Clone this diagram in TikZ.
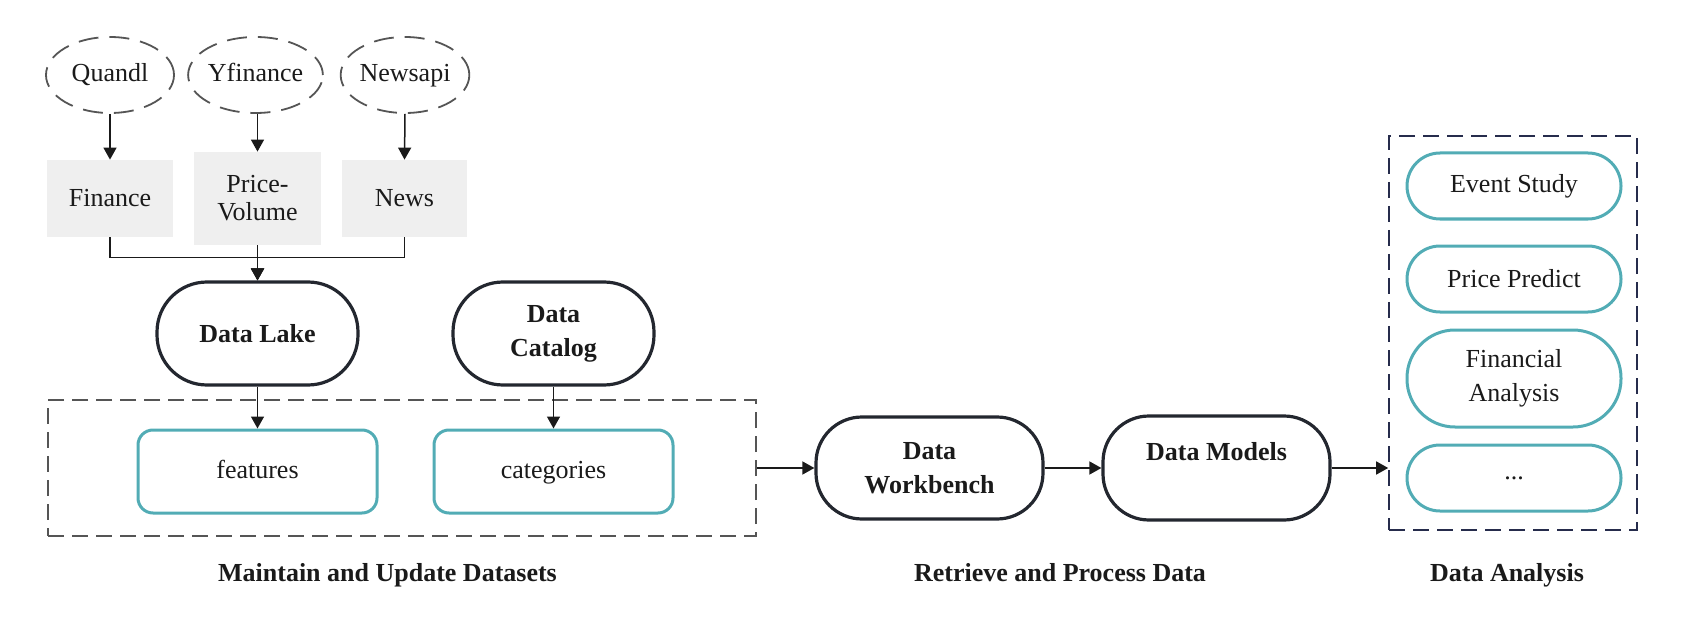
\documentclass[tikz,border=0pt]{standalone}
\usepackage{fontspec}
\setmainfont{Liberation Serif}
\usetikzlibrary{arrows.meta,shapes.geometric}
\definecolor{darkline}{HTML}{23272F}
\definecolor{tealline}{HTML}{52ACB5}
\definecolor{grayfill}{HTML}{EFEFEF}
\definecolor{navyline}{HTML}{262C4C}
\definecolor{dashgray}{HTML}{555555}
\definecolor{txt}{HTML}{1A1A1A}
\tikzset{
  every node/.style={font=\fontsize{13}{17}\selectfont, text=txt, inner sep=0pt, align=center},
  src/.style={ellipse, draw=dashgray, line width=0.9pt, dash pattern=on 10pt off 5.5pt, minimum width=64pt, minimum height=38pt, text height=9pt, text depth=2.5pt},
  graybox/.style={rectangle, fill=grayfill},
  darknode/.style={rectangle, draw=darkline, line width=1.6pt, font=\fontsize{13}{17}\selectfont\bfseries},
  tealbox/.style={rectangle, draw=tealline, line width=1.5pt, rounded corners=7.5pt, minimum width=119.5pt, minimum height=41.5pt, text height=9pt, text depth=2.5pt},
  tealpill/.style={rectangle, draw=tealline, line width=1.5pt, minimum width=107pt},
  groupbox/.style={rectangle, line width=0.8pt, dash pattern=on 8pt off 4pt},
  arr/.style={draw=txt, line width=0.75pt, -{Triangle[length=6pt,width=6.5pt]}},
  seclabel/.style={font=\fontsize{13}{17}\selectfont\bfseries, text height=8.6pt, text depth=0pt}
}
\begin{document}
\begin{tikzpicture}[x=0.5pt,y=-0.5pt]
\useasboundingbox (0,0) rectangle (1688,626);
% sources
\node[src] (qu) at (110,75) {Quandl};
\node[src] (yf) at (255.5,75) {Yfinance};
\node[src] (ns) at (405,75) {Newsapi};
% gray boxes
\node[graybox, minimum width=63pt, minimum height=38.5pt] (fin) at (110,198.5) {Finance};
\node[graybox, minimum width=63.5pt, minimum height=46.5pt, font=\fontsize{13}{14}\selectfont] (pv) at (257.5,198.5) {Price-\\Volume};
\node[graybox, minimum width=62.5pt, minimum height=38.5pt] (news) at (404.5,198.5) {News};
% data lake / catalog
\node[darknode, rounded corners=25pt, minimum width=100.5pt, minimum height=51.5pt] (lake) at (257.5,333.5) {Data Lake};
\node[darknode, rounded corners=25pt, minimum width=100.5pt, minimum height=51.5pt] (cat) at (553.5,333.5) {Data\\Catalog};
% group box left
\node[groupbox, draw=dashgray, minimum width=354pt, minimum height=68pt] (maint) at (402,468) {};
\node[tealbox] (feat) at (257.5,471.5) {features};
\node[tealbox] (categ) at (553.5,471.5) {categories};
% workbench / models
\node[darknode, rounded corners=23pt, minimum width=113.5pt, minimum height=51pt] (wb) at (929.5,468) {Data\\Workbench};
\node[darknode, rounded corners=23pt, minimum width=113.5pt, minimum height=52pt] (dm) at (1216.5,468) {Data Models\\\mbox{}};
% analysis group
\node[groupbox, draw=navyline, minimum width=124pt, minimum height=197pt] (anbox) at (1513,333) {};
\node[tealpill, rounded corners=16.5pt, minimum height=33pt] (es) at (1514,186) {Event Study};
\node[tealpill, rounded corners=16.5pt, minimum height=33pt] (pp) at (1514,279) {Price Predict};
\node[tealpill, rounded corners=24pt, minimum height=48.5pt] (fa) at (1514,378.5) {Financial\\Analysis};
\node[tealpill, rounded corners=16.5pt, minimum height=33pt] (dots) at (1514,478) {...};
% section labels
\node[seclabel] (l1) at (387.5,573) {Maintain and Update Datasets};
\node[seclabel] (l2) at (1060,573) {Retrieve and Process Data};
\node[seclabel] (l3) at (1507,573) {Data Analysis};
% connectors
\draw[arr] (qu.south) -- (fin.north);
\draw[arr] (yf.south -| pv.north) -- (pv.north);
\draw[arr] (ns.south) -- (news.north);
\draw[arr] (fin.south) -- ++(0,20) -| (lake.north);
\draw[arr] (news.south) -- ++(0,20) -| (lake.north);
\draw[arr] (pv.south) -- (lake.north);
\draw[arr] (lake.south) -- (feat.north);
\draw[arr] (cat.south) -- (categ.north);
\draw[arr] (maint.east) -- (wb.west);
\draw[arr] (wb.east) -- (dm.west);
\draw[arr] (dm.east) -- (dm.east -| anbox.west);
\end{tikzpicture}
\end{document}
